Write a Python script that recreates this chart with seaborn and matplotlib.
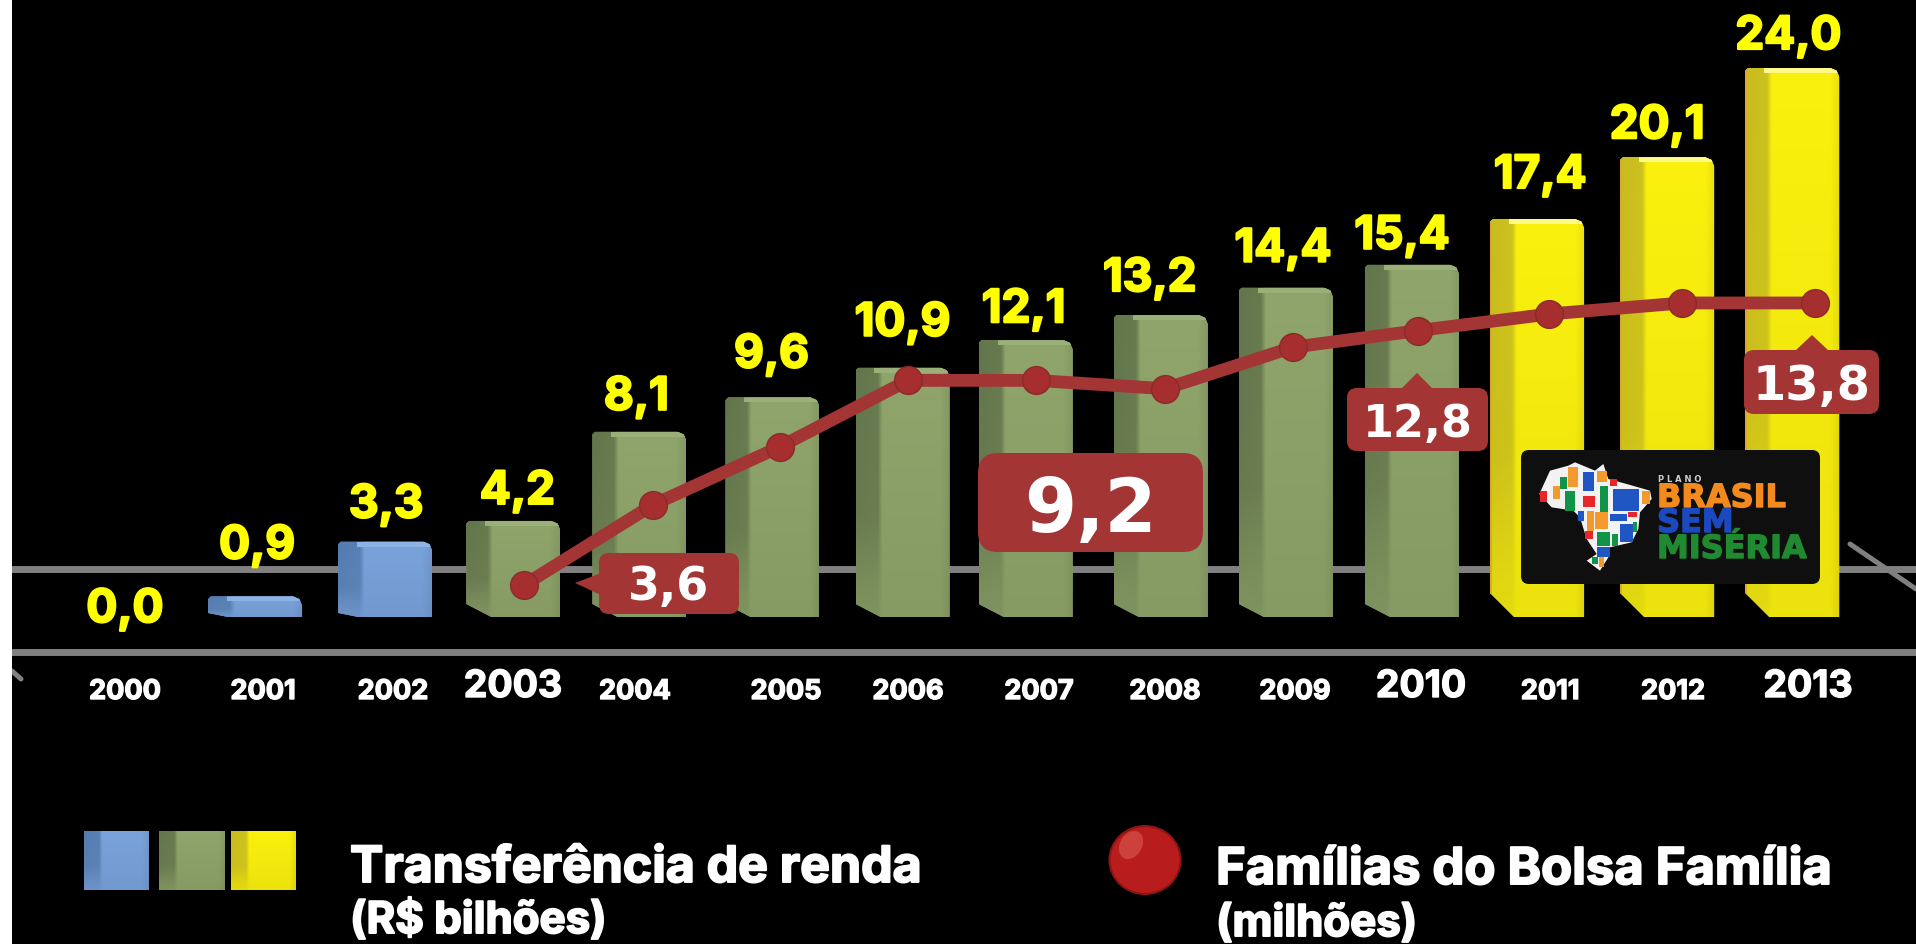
import matplotlib
matplotlib.use('Agg')
import matplotlib.pyplot as plt
import matplotlib.patheffects as pe
from matplotlib.patches import Polygon, Rectangle, Ellipse, FancyBboxPatch
from matplotlib.colors import to_rgb
from matplotlib.transforms import ScaledTranslation
import numpy as np
import pandas as pd
import seaborn as sns

anos = [2000, 2001, 2002, 2003, 2004, 2005, 2006, 2007, 2008, 2009, 2010, 2011, 2012, 2013]
transferencia = [0.0, 0.9, 3.3, 4.2, 8.1, 9.6, 10.9, 12.1, 13.2, 14.4, 15.4, 17.4, 20.1, 24.0]
fases = ['azul', 'azul', 'azul', 'verde', 'verde', 'verde', 'verde', 'verde', 'verde', 'verde', 'verde',
         'amarelo', 'amarelo', 'amarelo']

anos_familias = [2003, 2004, 2005, 2006, 2007, 2008, 2009, 2010, 2011, 2012, 2013]
familias = [3.6, 6.5, 8.6, 11.0, 11.0, 10.7, 12.2, 12.8, 13.4, 13.8, 13.8]

W, H = 1916, 945
BASE = 618        # y da base das barras, em pixels
ESCALA = 22.875   # pixels por R$ bilhão
X0, PASSO = 127, 128.1

cores = {
    'azul': {'frente': '#7AA3DC', 'lado': '#557CB0', 'topo': '#8DB2E4', 'recorte': (20, 4)},
    'verde': {'frente': '#8FA56B', 'lado': '#63754B', 'topo': '#9BB078', 'recorte': (25, 13)},
    'amarelo': {'frente': '#FBF10E', 'lado': '#C8BC20', 'topo': '#FFF98A', 'recorte': (24, 24)},
}
VINHO = '#A33535'
FONTE = ['Inter', 'DejaVu Sans']

# ajustes finos de posição (pixels)
desvio_barra = [0, 0, 2, 2, 0, 5, 7, 2, 9, 6, 4, 1, 3, 0]
desvio_linha = [0, 1, 0, 0, 0, 1, 1, -2, 1, 6, 11]
desvio_rotulo = [-2, 2, 3, 6, -3, 4, 7, 0, -2, 3, -6, 4, -7, -4]
folga_rotulo = [-5, 38, 24, 17, 22, 30, 32, 18, 24, 26, 16, 31, 19, 19]
x_anos = [125, 263, 393, 513, 635, 786, 908, 1039, 1165, 1295, 1421, 1550, 1673, 1808]
anos_grandes = [2003, 2010, 2013]

sns.set_theme(style='dark', rc={'figure.facecolor': 'black', 'savefig.facecolor': 'black'})
plt.rcParams['font.family'] = FONTE

fig = plt.figure(figsize=(W / 100, H / 100), dpi=100)


def eixo_px(z):
    a = fig.add_axes([0, 0, 1, 1], zorder=z)
    a.set_xlim(0, W)
    a.set_ylim(H, 0)
    a.axis('off')
    return a


def grosso(cor, w=1.0):
    return [pe.withStroke(linewidth=w, foreground=cor)]


fundo = eixo_px(0)
frente = eixo_px(4)

# linhas cinza do fundo
for y in [569.5, 652.5]:
    fundo.plot([12, W], [y, y], color='#808080', lw=5)
fundo.plot([1850, W], [545, 590], color='#808080', lw=3.6)
fundo.plot([12, 21], [672, 680], color='#808080', lw=3.6)

# barras
ax = fig.add_axes([0, 0, 1, 1], zorder=1)
df = pd.DataFrame({'ano': anos, 'valor': transferencia, 'fase': fases})
sns.barplot(data=df, x='ano', y='valor', hue='ano', palette=[cores[f]['frente'] for f in fases],
            width=94 / PASSO, legend=False, saturation=1, ax=ax)
lim_x = (-X0 / PASSO, (W - X0) / PASSO)
lim_y = ((BASE - H) / ESCALA, BASE / ESCALA)


def sombreado(fase, n_lin=60, n_col=94):
    c = cores[fase]
    f, l = np.array(to_rgb(c['frente'])), np.array(to_rgb(c['lado']))
    u = np.linspace(0, 1, n_col)
    v = np.linspace(0, 1, n_lin)
    a_x = np.interp(u, [0, 0.23, 0.28, 1], [1, 0.9, 0, 0])
    a_y = np.interp(v, [0, 0.6, 0.9, 1], [1, 0.8, 0.3, 0.2])
    a = np.outer(a_y, a_x)[:, :, None]
    img = f * (1 - a) + l * a
    img = img * np.interp(v, [0, 1], [1, 0.94])[:, None, None]
    img = img * np.interp(u, [0, 0.9, 1], [1, 1, 0.93])[None, :, None]
    return img


barras = [p for p in ax.patches]
for i, p in enumerate(barras):
    p.set_x(p.get_x() + desvio_barra[i] / PASSO)
    p.set_linewidth(0)
    alt = p.get_height()
    if alt <= 0:
        continue
    x, w = p.get_x(), p.get_width()
    fase = fases[i]
    dx, dy = cores[fase]['recorte']
    dx, dy = dx / PASSO, min(dy, alt * ESCALA * 0.3) / ESCALA
    r_x, r_y = 9 / PASSO, 9 / ESCALA
    forma = Polygon([(x, dy), (x + dx, 0), (x + w, 0), (x + w, alt - r_y), (x + w - r_x * 0.3, alt - r_y * 0.3),
                     (x + w - r_x, alt), (x + 0.3 * r_x, alt), (x, alt - 0.3 * r_y)],
                    closed=True, transform=ax.transData, fc='none', ec='none')
    ax.add_patch(forma)
    p.set_clip_path(forma)
    im = ax.imshow(sombreado(fase), extent=(x, x + w, 0, alt), aspect='auto', zorder=3, interpolation='bilinear')
    im.set_clip_path(forma)
    topo = Rectangle((x + 0.2 * w, alt - 5 / ESCALA), 0.8 * w, 5 / ESCALA, fc=cores[fase]['topo'], ec='none', zorder=4)
    ax.add_patch(topo)
    topo.set_clip_path(forma)
    if fase == 'amarelo':
        borda = Rectangle((x, 0), 2 / PASSO, alt, fc='#E3A32C', ec='none', zorder=4)
        ax.add_patch(borda)
        borda.set_clip_path(forma)

for i, v in enumerate(transferencia):
    ax.annotate(f'{v:.1f}'.replace('.', ','), xy=(i + 0, v), xytext=(desvio_rotulo[i], folga_rotulo[i]),
                textcoords='offset pixels', ha='center', va='baseline', color='#FFFF00',
                fontsize=33, fontweight='bold', zorder=6, annotation_clip=False,
                path_effects=grosso('#FFFF00', 1.6))
ax.set_xlim(*lim_x)
ax.set_ylim(*lim_y)
ax.axis('off')

# linha das famílias, com escala própria
ax2 = fig.add_axes([0, 0, 1, 1], zorder=2)
ax2.patch.set_alpha(0)
passo2 = 128
df2 = pd.DataFrame({'ano': anos_familias, 'familias': familias})
df2['x'] = df2['ano'] + np.array(desvio_linha) / passo2
sns.lineplot(data=df2, x='x', y='familias', color=VINHO, lw=9.2, marker='o', markersize=20,
             markerfacecolor='#A72E2E', markeredgecolor='#8A2B2B', markeredgewidth=1, ax=ax2)
brilho = sns.scatterplot(data=df2, x='x', y='familias', color='#B8403E', s=110, linewidth=0, alpha=0.6, ax=ax2, zorder=5)
brilho.collections[-1].set_transform(ax2.transData + ScaledTranslation(-2 / 100, 3 / 100, fig.dpi_scale_trans))
ax2.set_xlim(2003 - 524 / passo2, 2003 + (W - 524) / passo2)
esc2 = 27.65
zero2 = 586 + 3.6 * esc2
ax2.set_ylim((zero2 - H) / esc2, zero2 / esc2)
ax2.axis('off')


# caixas de destaque
def caixa(x0, y0, x1, y1, r, seta=None):
    frente.add_patch(FancyBboxPatch((x0 + r, y0 + r), x1 - x0 - 2 * r, y1 - y0 - 2 * r,
                                    boxstyle=f'round,pad={r},rounding_size={r}', fc=VINHO, ec='none', zorder=2))
    if seta:
        frente.add_patch(Polygon(seta, closed=True, fc=VINHO, ec='none', zorder=2))


caixa(599, 554, 739, 615, 10, [(575, 584), (601, 574), (601, 596)])
caixa(978, 454, 1203, 553, 20)
caixa(1347, 389, 1488, 452, 10, [(1417, 374), (1401, 390), (1433, 390)])
caixa(1744, 351, 1879, 415, 10, [(1812, 336), (1795, 352), (1829, 352)])
for x, y, s, fs in [(669, 600, '3,6', 33), (1090, 532, '9,2', 54), (1418, 437, '12,8', 32), (1812, 400, '13,8', 34.5)]:
    frente.text(x, y, s, ha='center', va='baseline', color='white', fontsize=fs, fontweight='bold',
                family='DejaVu Sans', zorder=3)

# anos
for ano, x in zip(anos, x_anos):
    grande = ano in anos_grandes
    frente.text(x, 698 if grande else 700, str(ano), ha='center', va='baseline', color='white',
                fontsize=27 if grande else 19.5, fontweight='bold', path_effects=grosso('white', 1.0))

# selo
frente.add_patch(FancyBboxPatch((1529, 459), 283, 118, boxstyle='round,pad=8,rounding_size=8', fc='#0F0F0F', ec='none'))
mapa = [(178, 195), (210, 125), (265, 110), (285, 100), (345, 125), (370, 105), (385, 150), (440, 165), (510, 185),
        (515, 210), (480, 250), (475, 300), (455, 340), (390, 355), (385, 385), (360, 425), (320, 395), (350, 375),
        (320, 330), (300, 265), (280, 245), (215, 235)]
frente.add_patch(Polygon([(1480 + a / 3, 430 + b / 3) for a, b in mapa], closed=True, fc='#F2F2F2', ec='none'))
LAR, AZ, VM, VD = '#F29A2E', '#1F56C4', '#E8262A', '#129448'
icones = [(265, 115, 30, 60, LAR), (310, 130, 32, 55, AZ), (350, 125, 30, 35, LAR), (390, 150, 20, 20, VM),
          (240, 145, 20, 35, VD), (218, 170, 22, 40, LAR), (180, 185, 22, 35, VM), (255, 185, 30, 60, VD),
          (310, 200, 35, 35, VM), (360, 170, 25, 80, VD), (400, 180, 78, 65, AZ), (485, 185, 25, 40, LAR),
          (320, 245, 22, 60, LAR), (345, 250, 40, 50, LAR), (295, 245, 18, 30, AZ), (390, 255, 50, 20, AZ),
          (445, 250, 25, 15, VM), (420, 285, 40, 55, AZ), (460, 280, 12, 30, VD), (315, 305, 25, 25, VM),
          (350, 310, 40, 40, VD), (395, 315, 20, 35, VD), (350, 355, 40, 30, AZ), (335, 385, 20, 20, VD),
          (358, 385, 15, 30, LAR)]
for a, b, c, d, cor in icones:
    frente.add_patch(Rectangle((1480 + a / 3, 430 + b / 3), c / 3, d / 3, fc=cor, ec='none'))
frente.text(1658, 482, 'P L A N O', color='#CCCCCC', fontsize=6, fontweight='bold', va='baseline', family='DejaVu Sans')
for y, s, cor in [(508, 'BRASIL', '#F28A1E'), (533, 'SEM', '#1B49C0'), (559, 'MISÉRIA', '#1F8A30')]:
    frente.text(1657, y, s, color=cor, fontsize=23, fontweight='bold', va='baseline', family='DejaVu Sans',
                path_effects=grosso(cor, 1.0))

# legenda
for (x0, x1), fase in zip([(84, 149), (159, 225), (231, 296)], ['azul', 'verde', 'amarelo']):
    frente.imshow(sombreado(fase), extent=(x0, x1, 891, 832), aspect='auto', interpolation='bilinear')
frente.set_xlim(0, W)
frente.set_ylim(H, 0)
frente.add_patch(Ellipse((1145, 861), 71, 68, fc='#B81C1C', ec='#8E1414', lw=1.5))
frente.add_patch(Ellipse((1131, 846), 22, 30, angle=30, fc='#DB5A52', ec='none', alpha=0.6))
for x, y, s, fs in [(350, 883, 'Transferência de renda', 36), (350, 934, '(R$ bilhões)', 31.5),
                    (1216, 885, 'Famílias do Bolsa Família', 36.5), (1216, 937, '(milhões)', 31.5)]:
    frente.text(x, y, s, color='white', fontsize=fs, fontweight='bold', va='baseline', path_effects=grosso('white', 1.4))

# faixa branca da esquerda
frente.add_patch(Rectangle((0, 0), 12, H, fc='white', ec='none', zorder=10))

plt.savefig('out.png', dpi=100, facecolor='black')
